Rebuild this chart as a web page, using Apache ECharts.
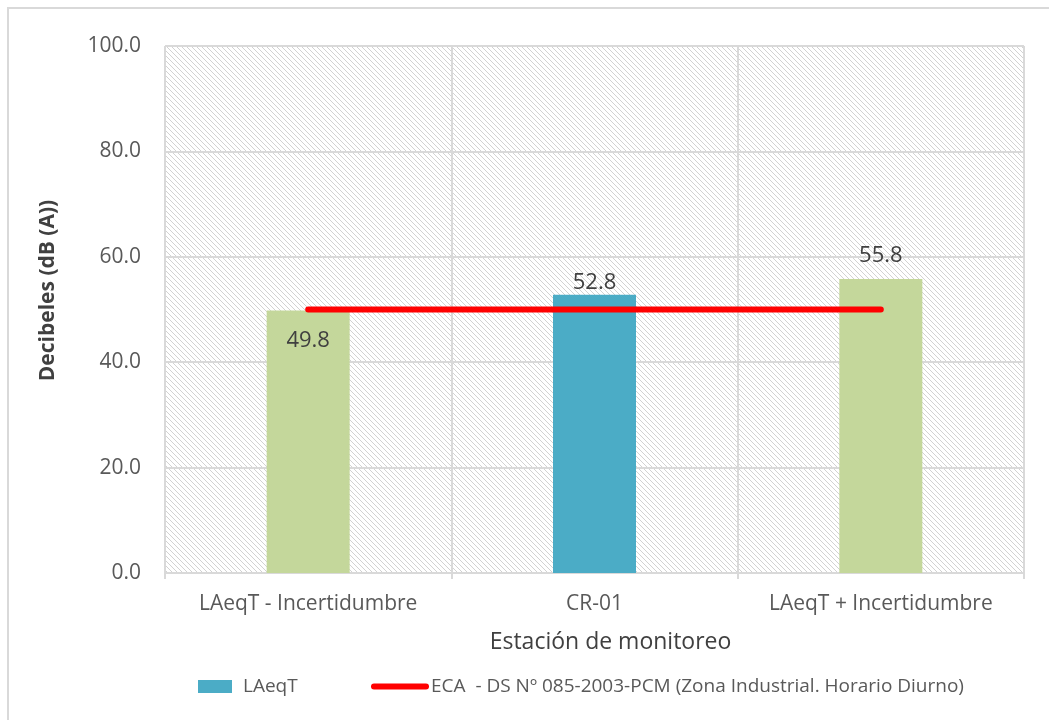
<!DOCTYPE html>
<html>
<head>
<meta charset="utf-8">
<script src="https://cdn.jsdelivr.net/npm/echarts@6/dist/echarts.min.js"></script>
<style>
  html, body { margin: 0; padding: 0; background: #ffffff; }
  #chart { width: 1049px; height: 720px; }
</style>
</head>
<body>
<div id="chart"></div>
<script>
// Station categories and measured levels
const categories = ['LAeqT - Incertidumbre', 'CR-01', 'LAeqT + Incertidumbre'];
const laeqValues = [49.8, 52.8, 55.8];
const ecaLimit = [50, 50, 50];
const yTicks = [0, 20, 40, 60, 80, 100];

const seriesLaeq = 'LAeqT';
const seriesEca = 'ECA  - DS Nº 085-2003-PCM (Zona Industrial. Horario Diurno)';

const barColors = ['#c4d79b', '#4bacc6', '#c4d79b'];
const labelPlacement = [
  { position: 'insideTop', distance: 19 },
  { position: 'top', distance: 1 },
  { position: 'top', distance: 12 }
];

// Diagonal hatch tile for the plot background
function hatchTile() {
  const c = document.createElement('canvas');
  c.width = 5; c.height = 5;
  const ctx = c.getContext('2d');
  ctx.fillStyle = '#ffffff';
  ctx.fillRect(0, 0, 5, 5);
  ctx.fillStyle = '#d2d2d2';
  for (let i = 0; i < 5; i++) ctx.fillRect(i, i, 1, 1);
  return c;
}

const font = '"Open Sans", "Noto Sans", sans-serif';
const chart = echarts.init(document.getElementById('chart'), null, { renderer: 'canvas' });

chart.setOption({
  backgroundColor: '#ffffff',
  animation: false,
  textStyle: { fontFamily: font },
  graphic: [{
    type: 'rect',
    shape: { x: 8, y: 8, width: 1060, height: 740 },
    style: { fill: 'none', stroke: '#d9d9d9', lineWidth: 2 },
    silent: true
  }],
  grid: {
    left: 165, right: 25, top: 46, bottom: 147,
    show: true,
    backgroundColor: { image: hatchTile(), repeat: 'repeat' },
    borderWidth: 0
  },
  legend: [{
    data: [{ name: seriesLaeq, icon: 'rect' }],
    left: 193, top: 672,
    itemWidth: 34, itemHeight: 13,
    textStyle: { fontSize: 19, color: '#595959', fontFamily: font, padding: [0, 0, 0, 6] }
  }, {
    data: [{ name: seriesEca, icon: 'path://M3,0 H55 A3,3 0 0 1 55,6 H3 A3,3 0 0 1 3,0 Z' }],
    left: 366, top: 672,
    itemWidth: 58, itemHeight: 6,
    itemStyle: { color: '#ff0000' },
    textStyle: { fontSize: 19, color: '#595959', fontFamily: font, padding: [0, 0, 0, -3] }
  }],
  xAxis: {
    type: 'category',
    data: categories,
    name: 'Estación de monitoreo',
    nameLocation: 'middle',
    nameGap: 58,
    nameTextStyle: { fontSize: 23, color: '#404040', fontFamily: font, padding: [0, 0, 0, 32] },
    axisLine: { show: true, lineStyle: { color: '#d9d9d9', width: 2 } },
    axisTick: { show: true, interval: 0, length: 6, lineStyle: { color: '#d9d9d9', width: 2 } },
    axisLabel: { interval: 0, fontSize: 21, color: '#595959', margin: 21, fontFamily: font },
    splitLine: { show: true, interval: 0, lineStyle: { color: '#d9d9d9', width: 2 } }
  },
  yAxis: {
    type: 'value',
    min: yTicks[0],
    max: yTicks[yTicks.length - 1],
    interval: yTicks[1] - yTicks[0],
    name: 'Decibeles (dB (A))',
    nameLocation: 'middle',
    nameGap: 106,
    nameTextStyle: { fontSize: 21, fontWeight: 'bold', color: '#404040', fontFamily: font, padding: [0, 0, 0, 38] },
    axisLine: { show: false },
    axisTick: { show: false },
    axisLabel: {
      fontSize: 21, color: '#595959', margin: 24, fontFamily: font,
      formatter: v => v.toFixed(1)
    },
    splitLine: { show: true, lineStyle: { color: '#d9d9d9', width: 2 } }
  },
  series: [{
    name: seriesLaeq,
    type: 'bar',
    barWidth: 83,
    itemStyle: { color: '#4bacc6' },
    data: laeqValues.map((v, i) => ({
      value: v,
      itemStyle: { color: barColors[i] },
      label: {
        show: true,
        position: labelPlacement[i].position,
        distance: labelPlacement[i].distance,
        fontSize: 22,
        color: '#404040',
        fontFamily: font,
        formatter: p => p.value.toFixed(1)
      }
    })),
    z: 2
  }, {
    name: seriesEca,
    type: 'line',
    data: ecaLimit,
    symbol: 'none',
    lineStyle: { color: '#ff0000', width: 6, cap: 'round' },
    itemStyle: { color: '#ff0000' },
    z: 3
  }]
});
</script>
</body>
</html>
